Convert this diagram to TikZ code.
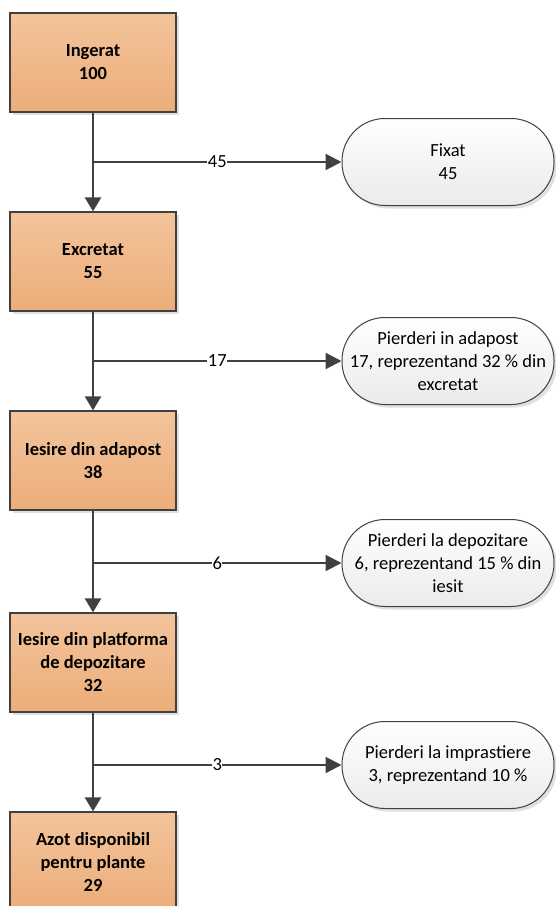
\documentclass[tikz,border=0pt]{standalone}
\usepackage{fontspec}
\setmainfont{Carlito}
\usetikzlibrary{arrows.meta, shadows}
\definecolor{boxtop}{HTML}{F3C49C}
\definecolor{boxbot}{HTML}{ECAD79}
\definecolor{linegray}{HTML}{404040}
\newcommand{\diagfont}{\fontsize{18.5}{23}\selectfont}
\tikzset{
  stage/.style={rectangle, draw=linegray, line width=1.2pt, minimum width=166pt, minimum height=99pt,
    top color=boxtop, bottom color=boxbot, align=center, font=\diagfont\bfseries,
    drop shadow={shadow xshift=3pt, shadow yshift=-3pt, fill=black!12, opacity=1}},
  loss/.style={rectangle, rounded corners=43pt, draw=linegray, line width=1pt, minimum width=212pt,
    minimum height=87pt, top color=white, bottom color=black!8, align=center, font=\diagfont,
    drop shadow={shadow xshift=3pt, shadow yshift=-3pt, fill=black!12, opacity=1}},
  flow/.style={draw=linegray, line width=2.5pt, -{Triangle[length=14pt,width=16pt]}},
  branch/.style={draw=linegray, line width=2.2pt, -{Triangle[length=16pt,width=16pt]}},
  amount/.style={fill=white, inner sep=0.5pt, font=\diagfont}
}
\begin{document}
\begin{tikzpicture}[x=1pt, y=-1pt]
    \useasboundingbox (0,0) rectangle (556,906);

    % Main chain
    \node[stage] (ing) at (93,62.5) {Ingerat\\100};
    \node[stage] (exc) at (93,261.5) {Excretat\\55};
    \node[stage] (ada) at (93,460.5) {Iesire din adapost\\38};
    \node[stage] (dep) at (93,662.5) {Iesire din platforma\\de depozitare\\32};
    \node[stage] (azo) at (93,861.5) {Azot disponibil\\pentru plante\\29};

    % Losses
    \node[loss] (fix) at (448,162) {Fixat\\45};
    \node[loss] (pad) at (448,361) {Pierderi in adapost\\17, reprezentand 32 \% din\\excretat};
    \node[loss] (pdep) at (448,563) {Pierderi la depozitare\\6, reprezentand 15 \% din\\iesit};
    \node[loss] (pimp) at (448,765) {Pierderi la imprastiere\\3, reprezentand 10 \%};

    % Junctions on the main line
    \coordinate (j1) at (93,162);
    \coordinate (j2) at (93,361);
    \coordinate (j3) at (93,563);
    \coordinate (j4) at (93,765);

    \draw[flow] (ing) -- (exc);
    \draw[flow] (exc) -- (ada);
    \draw[flow] (ada) -- (dep);
    \draw[flow] (dep) -- (azo);

    \draw[branch] (j1) -- node[amount] {45} (fix);
    \draw[branch] (j2) -- node[amount] {17} (pad);
    \draw[branch] (j3) -- node[amount] {6} (pdep);
    \draw[branch] (j4) -- node[amount] {3} (pimp);
\end{tikzpicture}
\end{document}
